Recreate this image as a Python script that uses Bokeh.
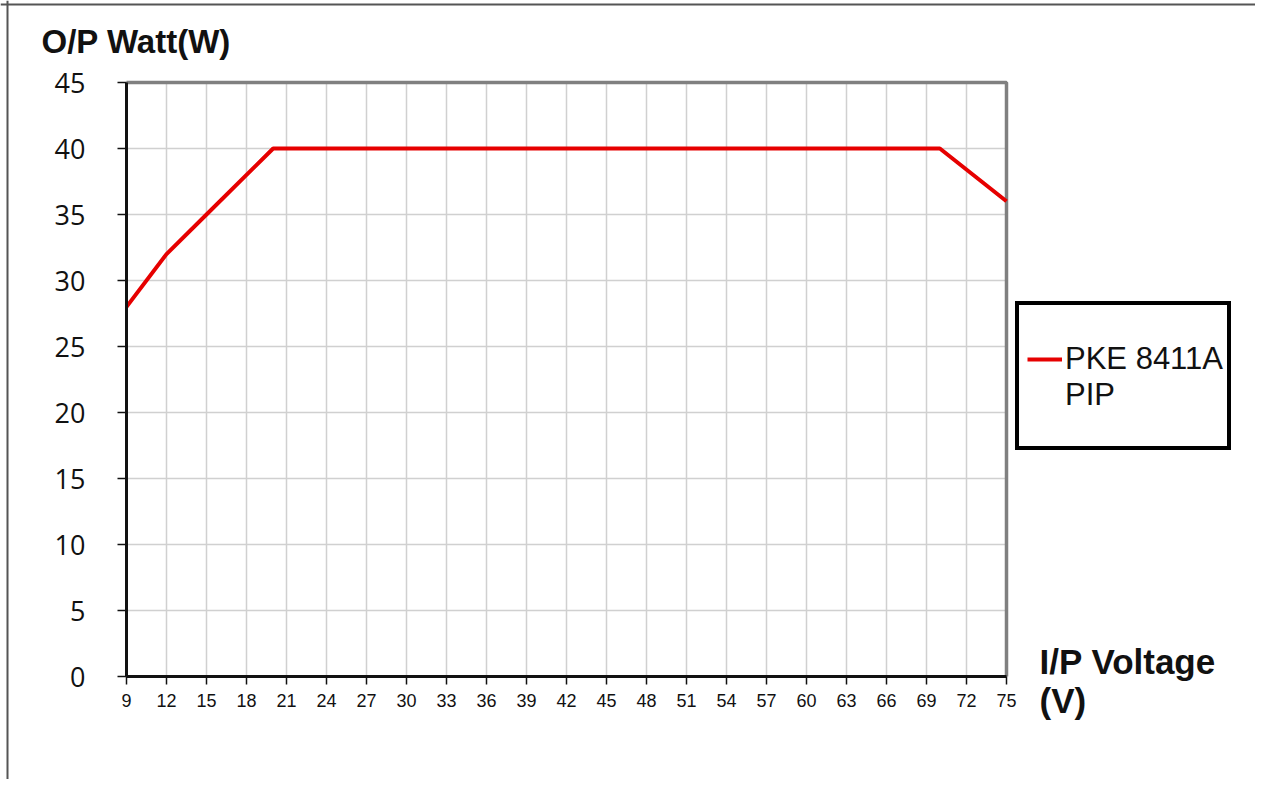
from bokeh.plotting import figure
from bokeh.models import FixedTicker, Legend, LegendItem, LinearAxis, Label, Span
from bokeh.embed import file_html
from bokeh.resources import INLINE

# Data
voltage = [9, 12, 15, 18, 20, 70, 75]
watt = [28, 32, 35, 38, 40, 40, 36]
x_ticks = list(range(9, 76, 3))
y_ticks = list(range(0, 46, 5))
series_name = "PKE 8411A"
series_name2 = "PIP"
y_title = "O/P Watt(W)"
x_title1 = "I/P Voltage"
x_title2 = "(V)"

W, H = 1255, 779
X0, X1, Y0, Y1 = 9, 75, 0, 45
PX_L, PX_R, PY_T, PY_B = 126, 1006, 82, 676   # chart area in canvas pixels
sx = (X1 - X0) / (PX_R - PX_L)
sy = (Y1 - Y0) / (PY_B - PY_T)
x_range = (X0 - PX_L * sx, X1 + (W - PX_R) * sx)
y_range = (Y0 - (H - PY_B) * sy, Y1 + PY_T * sy)

p = figure(width=W, height=H, output_backend="svg", toolbar_location=None,
           x_range=x_range, y_range=y_range,
           x_axis_location=None, y_axis_location=None,
           min_border_left=0, min_border_right=0, min_border_top=0, min_border_bottom=0)
p.background_fill_color = "white"
p.border_fill_color = "white"
p.outline_line_color = None
p.grid.visible = False

# grid
p.segment(x0=x_ticks, y0=[Y0] * len(x_ticks), x1=x_ticks, y1=[Y1] * len(x_ticks),
          line_color="#d0d0d0", line_width=1.5)
p.segment(x0=[X0] * len(y_ticks), y0=y_ticks, x1=[X1] * len(y_ticks), y1=y_ticks,
          line_color="#d0d0d0", line_width=1.5)
# top / right frame border
p.line([X0, X1, X1], [Y1, Y1, Y0], line_color="#808080", line_width=3.5)

r = p.line(voltage, watt, line_color="#e60000", line_width=4)
blank = p.line([], [], line_alpha=0)

xax = LinearAxis(fixed_location=Y0, bounds=(X0, X1), ticker=FixedTicker(ticks=x_ticks))
yax = LinearAxis(fixed_location=X0, bounds=(Y0, Y1), ticker=FixedTicker(ticks=y_ticks))
p.add_layout(xax, "below")
p.add_layout(yax, "left")

for ax in (xax, yax):
    ax.axis_line_color = "#111111"
    ax.axis_line_width = 3
    ax.major_tick_line_color = "#111111"
    ax.major_tick_line_width = 1.5
    ax.major_tick_in = 0
    ax.minor_tick_line_color = None
    ax.major_label_text_color = "#111111"

yax.major_tick_out = 9
yax.major_label_standoff = 32
yax.major_label_text_font = "Open Sans"
yax.major_label_text_font_size = "27px"

xax.major_tick_out = 8
xax.major_label_standoff = 9
xax.major_label_text_font = "Liberation Sans"
xax.major_label_text_font_size = "18px"

def lab(text, x, y, size, bold=False):
    p.add_layout(Label(x=x, y=H - y, x_units="screen", y_units="screen", text=text,
                       text_font="Liberation Sans", text_font_size=size,
                       text_font_style="bold" if bold else "normal",
                       text_baseline="middle", text_align="left", text_color="#111111"))

lab(y_title, 41, 41, "33px", True)
lab(x_title1, 1039, 661, "35px", True)
lab(x_title2, 1039, 700, "35px", True)

legend = Legend(items=[LegendItem(label=series_name, renderers=[r]),
                       LegendItem(label=series_name2, renderers=[blank])],
                location=(1015, H - 450), border_line_color="black", border_line_width=4,
                border_line_alpha=1,
                background_fill_color="white", background_fill_alpha=1,
                label_text_font="Liberation Sans", label_text_font_size="31px",
                label_text_color="#111111", glyph_width=35, glyph_height=20,
                label_standoff=3, padding=dict(left=8, right=2, top=36, bottom=33),
                spacing=0, label_height=35, label_width=160, margin=0)
p.add_layout(legend, "center")

# outer page border (top and left)
p.add_layout(Span(location=H - 4, location_units="screen", dimension="width",
                  line_color="#555555", line_width=2))
p.add_layout(Span(location=7, location_units="screen", dimension="height",
                  line_color="#555555", line_width=2))

open("out.html", "w").write(file_html(p, INLINE))
